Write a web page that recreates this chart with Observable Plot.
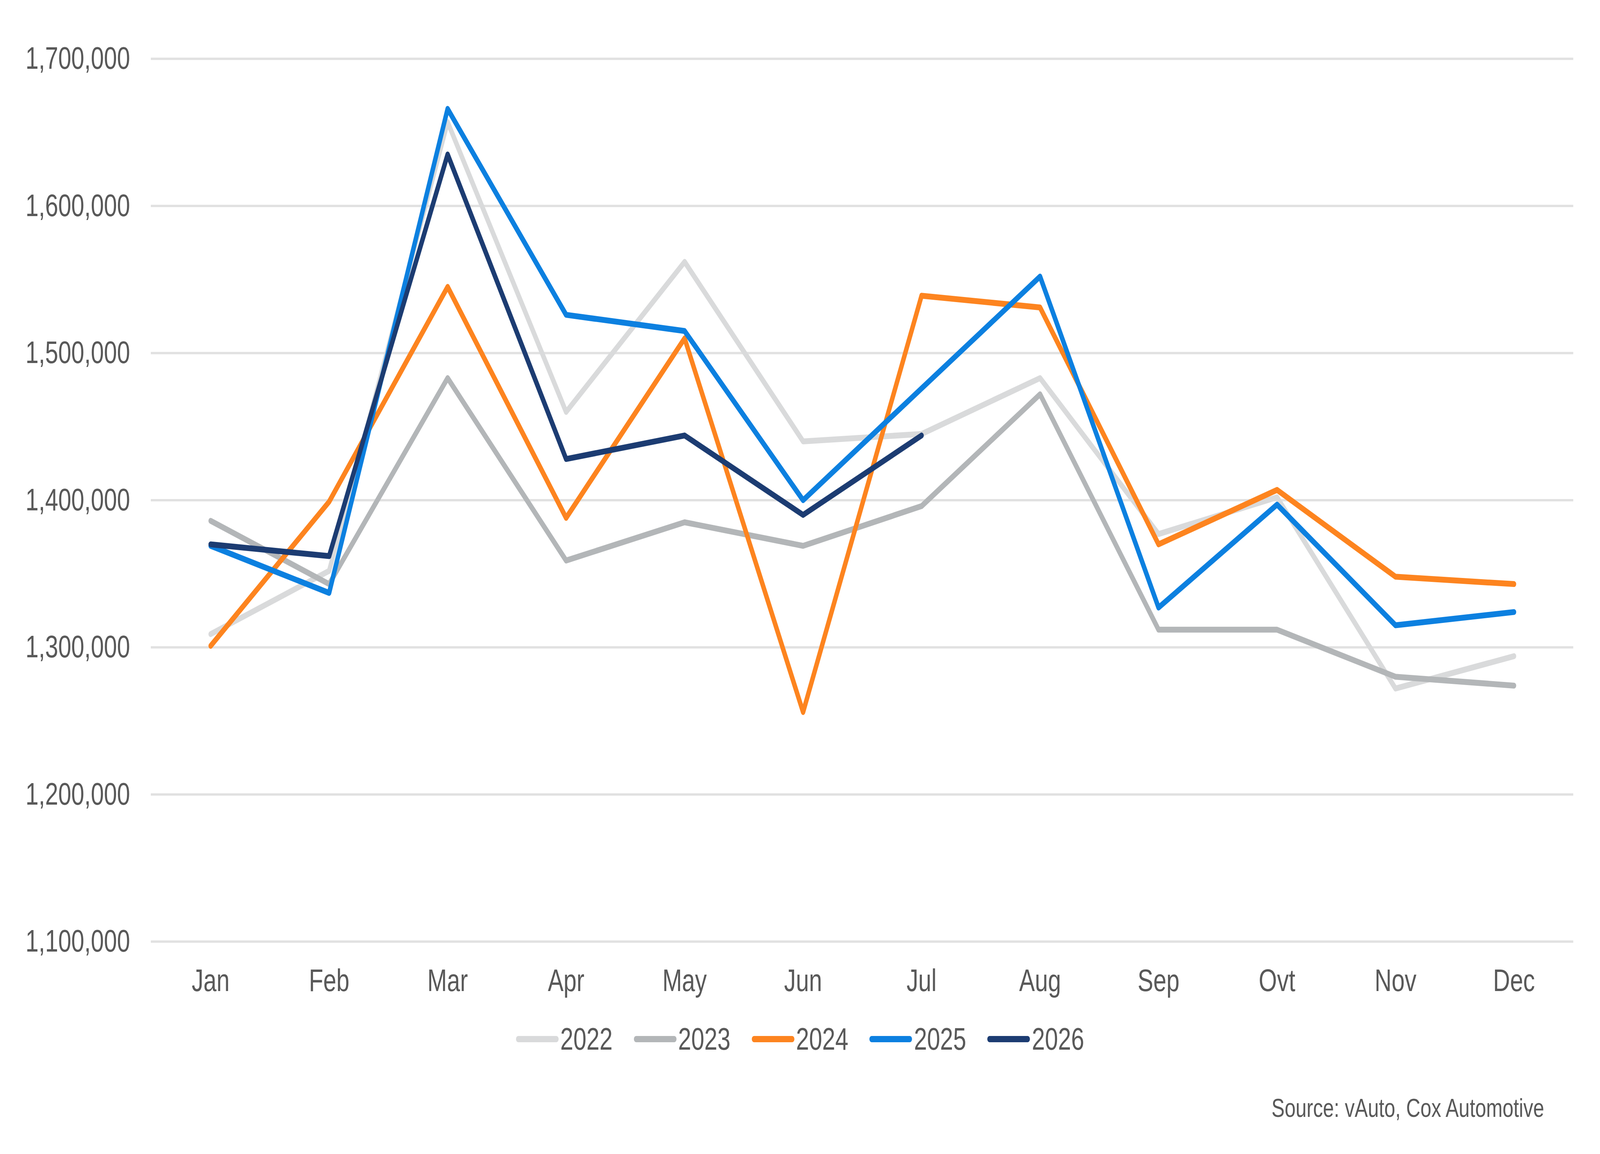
<!DOCTYPE html>
<html>
<head>
<meta charset="utf-8">
<script src="https://cdn.jsdelivr.net/npm/d3@7"></script>
<script src="https://cdn.jsdelivr.net/npm/@observablehq/plot@0.6"></script>
<style>
  html, body { margin: 0; padding: 0; background: #ffffff; overflow: hidden; }
  #outer { position: relative; overflow: hidden; background: #ffffff; }
  #wrap { position: absolute; left: 0; top: 0; width: 5442px; height: 2953px; background: #ffffff; font-family: "Liberation Sans", Arial, sans-serif; color: #595959; transform-origin: 0 0; }
  #chart { position: absolute; left: 0; top: 0; }
  #legend { position: absolute; left: 0; width: 5442px; top: 2619px; display: flex; justify-content: center; align-items: center; font-size: 80px; line-height: 80px; }
  .item { display: flex; align-items: center; margin: 0 36px; }
  .sw { display: inline-block; width: 145px; height: 16px; border-radius: 8px; margin-right: 6px; }
  #source { position: absolute; right: 190px; top: 2801px; font-size: 67px; line-height: 67px; }
</style>
</head>
<body>
<div id="outer">
<div id="wrap">
  <div id="chart"></div>
  <div id="legend"></div>
  <div id="source">Source: vAuto, Cox Automotive</div>
</div>
</div>
<script>
const months = ["Jan","Feb","Mar","Apr","May","Jun","Jul","Aug","Sep","Ovt","Nov","Dec"];
const years = ["2022","2023","2024","2025","2026"];
const colors = ["#d9dadb","#b3b6b8","#fd841f","#0c80e0","#1c3c72"];
const yTicks = [1100000,1200000,1300000,1400000,1500000,1600000,1700000];

const v2022 = [1309000,1352000,1657000,1460000,1562000,1440000,1445000,1483000,1377000,1402000,1272000,1294000];
const v2023 = [1386000,1343000,1483000,1359000,1385000,1369000,1396000,1472000,1312000,1312000,1280000,1274000];
const v2024 = [1301000,1399000,1545000,1388000,1510000,1256000,1539000,1531000,1370000,1407000,1348000,1343000];
const v2025 = [1369000,1337000,1666000,1526000,1515000,1400000,1476000,1552000,1327000,1397000,1315000,1324000];
const v2026 = [1370000,1362000,1635000,1428000,1444000,1390000,1444000];

const series = [v2022, v2023, v2024, v2025, v2026];
const data = series.flatMap((vals, i) => vals.map((v, j) => ({year: years[i], month: months[j], value: v})));

const chart = Plot.plot({
  width: 5442,
  height: 2580,
  marginTop: 150,
  marginBottom: 171,
  marginLeft: 513,
  marginRight: 91,
  style: {fontFamily: '"Liberation Sans", Arial, sans-serif', background: "#ffffff", color: "#595959"},
  x: {type: "point", domain: months, padding: 0.5},
  y: {domain: [1100000, 1700000]},
  color: {domain: years, range: colors},
  marks: [
    Plot.gridY(yTicks, {stroke: "#e1e1e1", strokeOpacity: 1, strokeWidth: 6}),
    Plot.axisY(yTicks, {tickSize: 0, tickPadding: 71, tickFormat: d3.format(","), fontSize: 80, fill: "#595959", label: null}),
    Plot.axisX(months, {tickSize: 0, tickPadding: 70, fontSize: 80, fill: "#595959", label: null}),
    Plot.line(data, {x: "month", y: "value", z: "year", stroke: "year", strokeWidth: 15, strokeLinejoin: "round", strokeLinecap: "round"})
  ]
});
document.getElementById("chart").appendChild(chart);

const legend = document.getElementById("legend");
years.forEach((y, i) => {
  const item = document.createElement("div");
  item.className = "item";
  const sw = document.createElement("span");
  sw.className = "sw";
  sw.style.background = colors[i];
  const t = document.createElement("span");
  t.textContent = y;
  item.appendChild(sw);
  item.appendChild(t);
  legend.appendChild(item);
});

function fit() {
  const vw = document.documentElement.clientWidth || window.innerWidth || 5442;
  const vh = document.documentElement.clientHeight || window.innerHeight || 2953;
  const sx = vw / 5442;
  const sy = vh / 2953;
  const outer = document.getElementById("outer");
  const wrap = document.getElementById("wrap");
  wrap.style.transform = "scale(" + sx + "," + sy + ")";
  outer.style.width = vw + "px";
  outer.style.height = vh + "px";
}
fit();
window.addEventListener("resize", fit);
</script>
</body>
</html>
